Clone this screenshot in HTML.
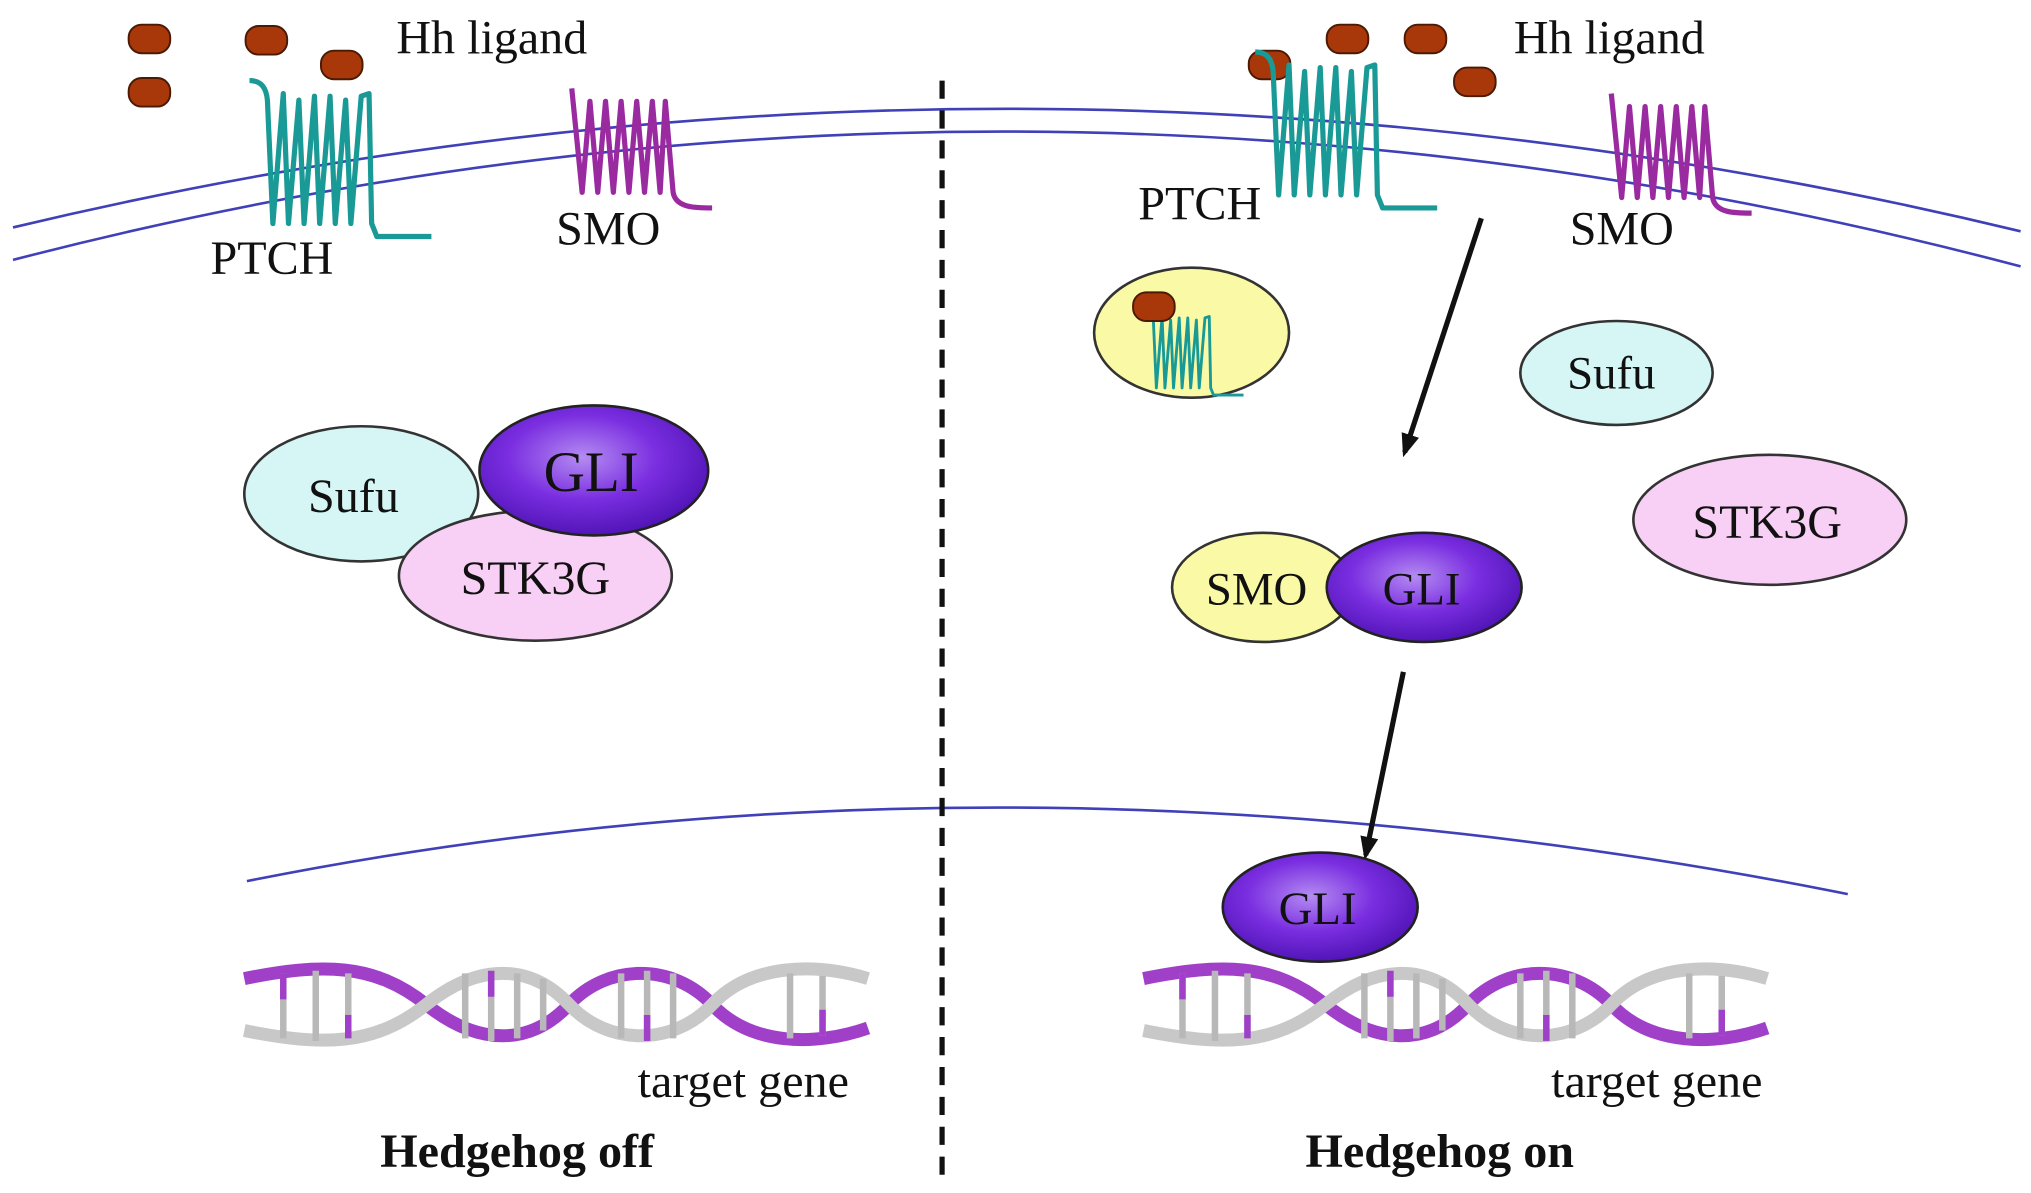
<!DOCTYPE html>
<html><head><meta charset="utf-8"><style>
html,body{margin:0;padding:0;background:#fff}
svg{display:block}
text{font-family:"Liberation Serif",serif;fill:#111}
</style></head><body>
<svg width="2031" height="1193" viewBox="0 0 1563 918" preserveAspectRatio="none" xmlns="http://www.w3.org/2000/svg">
<defs>
<radialGradient id="gli" cx="45%" cy="40%" r="65%">
<stop offset="0" stop-color="#b48cf2"/><stop offset="0.5" stop-color="#7a2ee0"/><stop offset="1" stop-color="#4a10b0"/>
</radialGradient>
<marker id="ah" markerWidth="18" markerHeight="14" refX="14" refY="7" orient="auto" markerUnits="userSpaceOnUse">
<path d="M0,0 L18,7 L0,14 Z" fill="#111"/></marker>
<g id="hh"><rect x="-16" y="-11" width="32" height="22" rx="10" fill="#a8380a" stroke="#4a1a05" stroke-width="1.5"/></g>
<g id="ptch" fill="none" stroke="#1a9a96" stroke-width="4" stroke-linejoin="round">
<path d="M0,0 C12,0 14,10 14,20 L18,110 L26,10 L30,110 L38,15 L42,110 L50,12 L54,110 L62,12 L66,110 L74,15 L78,110 L86,12 L92,10 L94,110 L98,120 L140,120"/>
</g>
<g id="smo" fill="none" stroke="#9a2aa0" stroke-width="4" stroke-linejoin="round">
<path d="M0,0 L8,80 L14,10 L20,80 L26,10 L32,80 L38,10 L44,80 L50,10 L56,80 L62,10 L68,80 L72,10 L78,80 C80,92 95,92 108,92"/>
</g>
<g id="dna">
<path d="M0,12 C60,0 100,0 140,32 C180,64 220,64 250,32 C280,0 330,0 360,32 C390,64 440,64 480,50" fill="none" stroke="#a040c8" stroke-width="10"/>
<path d="M0,52 C60,64 100,64 140,32 C180,0 220,0 250,32 C280,64 330,64 360,32 C390,0 440,0 480,12" fill="none" stroke="#c8c8c8" stroke-width="10"/>
<g stroke="#b8b8b8" stroke-width="5">
<line x1="30" y1="8" x2="30" y2="58"/><line x1="55" y1="6" x2="55" y2="60"/><line x1="80" y1="8" x2="80" y2="58"/>
<line x1="170" y1="8" x2="170" y2="58"/><line x1="190" y1="6" x2="190" y2="60"/><line x1="210" y1="8" x2="210" y2="58"/><line x1="230" y1="12" x2="230" y2="52"/>
<line x1="290" y1="8" x2="290" y2="58"/><line x1="310" y1="6" x2="310" y2="60"/><line x1="330" y1="8" x2="330" y2="58"/>
<line x1="420" y1="8" x2="420" y2="58"/><line x1="445" y1="10" x2="445" y2="56"/>
</g>
<g stroke="#a040c8" stroke-width="5">
<line x1="30" y1="8" x2="30" y2="28"/><line x1="80" y1="40" x2="80" y2="58"/><line x1="190" y1="6" x2="190" y2="26"/><line x1="310" y1="40" x2="310" y2="60"/><line x1="445" y1="36" x2="445" y2="56"/>
</g>
</g>
</defs>

<path d="M10,175 Q780,-9 1555,178" fill="none" stroke="#4040b8" stroke-width="2"/>
<path d="M10,200 Q780,0 1555,205" fill="none" stroke="#4040b8" stroke-width="2"/>
<path d="M190,678 Q780,560 1422,688" fill="none" stroke="#4040b8" stroke-width="2"/>
<line x1="725" y1="62" x2="725" y2="905" stroke="#111" stroke-width="4" stroke-dasharray="14,9"/>

<use href="#hh" x="115" y="30"/><use href="#hh" x="115" y="71"/><use href="#hh" x="205" y="31"/><use href="#hh" x="263" y="50"/>
<text x="305" y="41" font-size="37">Hh ligand</text>
<use href="#ptch" x="192" y="62"/>
<text x="162" y="211" font-size="37">PTCH</text>
<use href="#smo" x="440" y="68"/>
<text x="428" y="188" font-size="37">SMO</text>

<ellipse cx="278" cy="380" rx="90" ry="52" fill="#d6f6f6" stroke="#333" stroke-width="2"/>
<text x="272" y="394" font-size="37" text-anchor="middle">Sufu</text>
<ellipse cx="412" cy="443" rx="105" ry="50" fill="#f8d0f6" stroke="#333" stroke-width="2"/>
<text x="412" y="457" font-size="37" text-anchor="middle">STK3G</text>
<ellipse cx="457" cy="362" rx="88" ry="50" fill="url(#gli)" stroke="#222" stroke-width="2"/>
<text x="455" y="378" font-size="44" text-anchor="middle">GLI</text>

<use href="#dna" x="188" y="741"/>
<text x="572" y="844" font-size="37" text-anchor="middle">target gene</text>
<text x="398" y="898" font-size="37" font-weight="bold" text-anchor="middle">Hedgehog off</text>

<use href="#hh" x="977" y="50"/><use href="#hh" x="1037" y="30"/><use href="#hh" x="1097" y="30"/><use href="#hh" x="1135" y="63"/>
<text x="1165" y="41" font-size="37">Hh ligand</text>
<use href="#ptch" x="966" y="40"/>
<text x="876" y="169" font-size="37">PTCH</text>
<use href="#smo" x="1240" y="72"/>
<text x="1208" y="188" font-size="37">SMO</text>

<ellipse cx="917" cy="256" rx="75" ry="50" fill="#fafaa6" stroke="#333" stroke-width="2"/>
<g transform="translate(880,238) scale(0.55)"><use href="#ptch"/></g>
<use href="#hh" x="888" y="236"/>

<line x1="1140" y1="168" x2="1081" y2="348" stroke="#111" stroke-width="4" marker-end="url(#ah)"/>
<ellipse cx="1244" cy="287" rx="74" ry="40" fill="#d6f6f6" stroke="#333" stroke-width="2"/>
<text x="1240" y="299" font-size="36" text-anchor="middle">Sufu</text>
<ellipse cx="1362" cy="400" rx="105" ry="50" fill="#f8d0f6" stroke="#333" stroke-width="2"/>
<text x="1360" y="414" font-size="37" text-anchor="middle">STK3G</text>
<ellipse cx="972" cy="452" rx="70" ry="42" fill="#fafaa6" stroke="#333" stroke-width="2"/>
<text x="967" y="465" font-size="36" text-anchor="middle">SMO</text>
<ellipse cx="1096" cy="452" rx="75" ry="42" fill="url(#gli)" stroke="#222" stroke-width="2"/>
<text x="1094" y="465" font-size="36" text-anchor="middle">GLI</text>
<line x1="1080" y1="517" x2="1051" y2="658" stroke="#111" stroke-width="4" marker-end="url(#ah)"/>
<use href="#dna" x="880" y="741"/>
<ellipse cx="1016" cy="698" rx="75" ry="42" fill="url(#gli)" stroke="#222" stroke-width="2"/>
<text x="1014" y="711" font-size="36" text-anchor="middle">GLI</text>
<text x="1275" y="844" font-size="37" text-anchor="middle">target gene</text>
<text x="1108" y="898" font-size="37" font-weight="bold" text-anchor="middle">Hedgehog on</text>
</svg>
</body></html>
